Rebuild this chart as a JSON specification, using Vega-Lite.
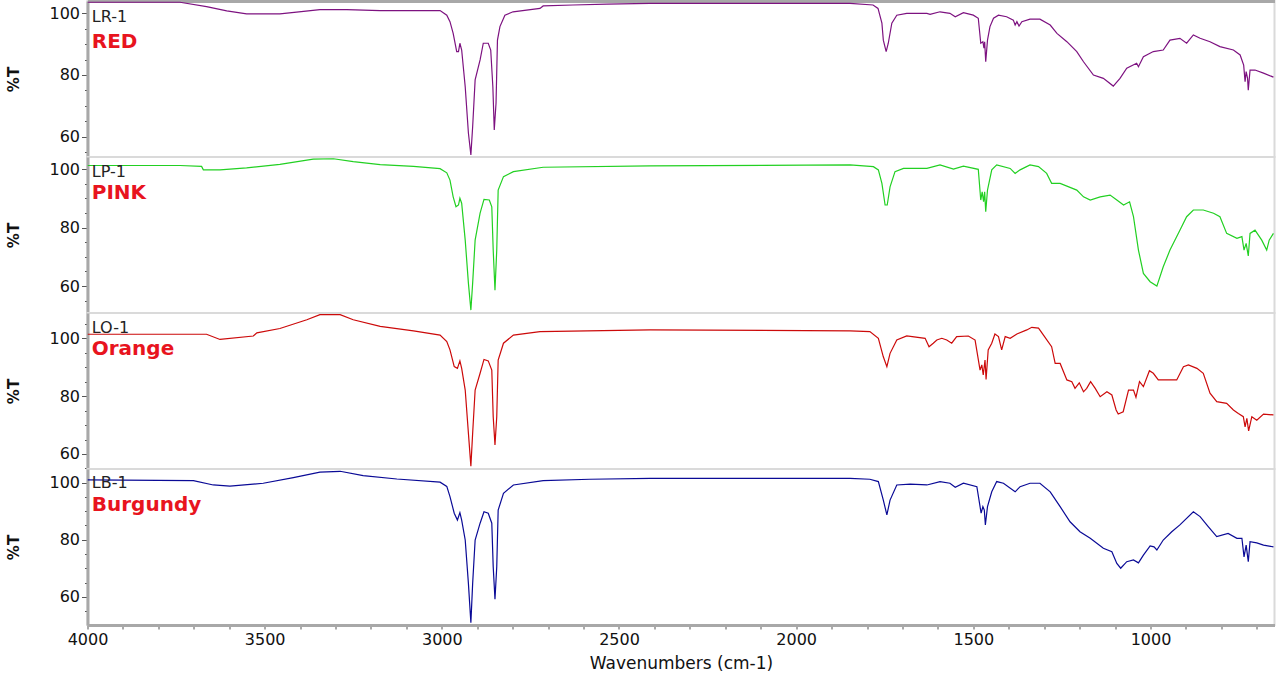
{
  "$schema": "https://vega.github.io/schema/vega-lite/v6.json",
  "background": "white",
  "padding": {"left": 4.5, "top": 0, "right": 0, "bottom": 0},
  "spacing": 0,
  "bounds": "flush",
  "config": {
    "view": {"stroke": "#DADADA", "strokeWidth": 2},
    "concat": {"spacing": 0},
    "axis": {
      "labelFont": "DejaVu Sans", "labelFontSize": 16, "labelColor": "#111111",
      "titleFont": "DejaVu Sans", "titleColor": "#111111",
      "domainColor": "#A8A8A8", "domainWidth": 3, "tickColor": "#555555", "grid": false
    },
    "text": {"font": "DejaVu Sans"}
  },
  "datasets": {
    "red": [
      {"w":4000,"T":103.6},{"w":3739,"T":103.6},{"w":3664,"T":102.2},{"w":3607,"T":100.8},{"w":3551,"T":99.8},{"w":3457,"T":99.8},{"w":3410,"T":100.4},{"w":3344,"T":101.2},{"w":3268,"T":101.2},{"w":3174,"T":100.9},{"w":3005,"T":100.9},{"w":2986,"T":99.4},{"w":2977,"T":97.3},{"w":2968,"T":93.5},{"w":2958,"T":87.6},{"w":2953,"T":87.6},{"w":2949,"T":90.3},{"w":2944,"T":88.1},{"w":2934,"T":76.2},{"w":2925,"T":61.2},{"w":2918,"T":54.1},{"w":2913,"T":63.2},{"w":2906,"T":78.4},{"w":2892,"T":84.9},{"w":2883,"T":90.3},{"w":2869,"T":90.3},{"w":2862,"T":88.1},{"w":2856,"T":76.2},{"w":2852,"T":62.2},{"w":2847,"T":70.9},{"w":2843,"T":91.3},{"w":2836,"T":95.7},{"w":2822,"T":99.4},{"w":2799,"T":100.5},{"w":2723,"T":101.6},{"w":2714,"T":102.4},{"w":2630,"T":102.7},{"w":2534,"T":103.0},{"w":2413,"T":103.2},{"w":1848,"T":103.2},{"w":1783,"T":102.7},{"w":1769,"T":101.6},{"w":1758,"T":96.8},{"w":1754,"T":91.3},{"w":1746,"T":87.6},{"w":1740,"T":90.3},{"w":1730,"T":96.8},{"w":1716,"T":99.4},{"w":1688,"T":100},{"w":1631,"T":100},{"w":1622,"T":99.7},{"w":1594,"T":100.5},{"w":1566,"T":100},{"w":1551,"T":98.9},{"w":1528,"T":100.2},{"w":1500,"T":99.4},{"w":1486,"T":98.4},{"w":1479,"T":90.3},{"w":1473,"T":90.8},{"w":1470,"T":88.7},{"w":1468,"T":90.8},{"w":1465,"T":84.3},{"w":1460,"T":91.3},{"w":1453,"T":95.7},{"w":1443,"T":98.4},{"w":1429,"T":99.4},{"w":1406,"T":98.9},{"w":1387,"T":97.8},{"w":1382,"T":96.2},{"w":1377,"T":97.3},{"w":1371,"T":95.9},{"w":1363,"T":97.3},{"w":1340,"T":98.1},{"w":1312,"T":98.1},{"w":1283,"T":96.2},{"w":1264,"T":93.5},{"w":1236,"T":90.8},{"w":1208,"T":87.6},{"w":1189,"T":84.3},{"w":1161,"T":80.0},{"w":1133,"T":78.9},{"w":1105,"T":76.4},{"w":1086,"T":78.9},{"w":1067,"T":82.2},{"w":1039,"T":83.8},{"w":1034,"T":82.7},{"w":1020,"T":85.9},{"w":992,"T":87.6},{"w":964,"T":88.1},{"w":945,"T":91.3},{"w":917,"T":91.9},{"w":898,"T":90.3},{"w":879,"T":93.0},{"w":860,"T":91.9},{"w":832,"T":90.8},{"w":804,"T":89.2},{"w":766,"T":88.1},{"w":747,"T":86.5},{"w":737,"T":83.2},{"w":733,"T":77.8},{"w":730,"T":81.1},{"w":726,"T":78.9},{"w":724,"T":75.1},{"w":719,"T":81.6},{"w":705,"T":81.6},{"w":681,"T":80.6},{"w":653,"T":79.3}
    ],
    "pink": [
      {"w":4000,"T":101.2},{"w":3739,"T":101.2},{"w":3678,"T":100.9},{"w":3673,"T":99.7},{"w":3626,"T":99.7},{"w":3551,"T":100.4},{"w":3457,"T":101.6},{"w":3363,"T":103.4},{"w":3306,"T":103.5},{"w":3250,"T":102.5},{"w":3174,"T":101.5},{"w":3080,"T":100.9},{"w":3005,"T":100.1},{"w":2986,"T":98.7},{"w":2977,"T":96.2},{"w":2968,"T":90.5},{"w":2960,"T":87.1},{"w":2953,"T":87.7},{"w":2949,"T":90.0},{"w":2944,"T":88.3},{"w":2934,"T":75.7},{"w":2925,"T":61.0},{"w":2918,"T":51.8},{"w":2913,"T":61.0},{"w":2906,"T":75.7},{"w":2892,"T":84.9},{"w":2881,"T":89.6},{"w":2866,"T":89.4},{"w":2859,"T":87.1},{"w":2855,"T":72.3},{"w":2850,"T":58.6},{"w":2845,"T":72.3},{"w":2841,"T":92.8},{"w":2826,"T":97.4},{"w":2798,"T":99.1},{"w":2714,"T":100.6},{"w":2412,"T":101.1},{"w":1848,"T":101.4},{"w":1782,"T":100.8},{"w":1768,"T":99.7},{"w":1758,"T":95.1},{"w":1749,"T":87.7},{"w":1743,"T":87.7},{"w":1735,"T":93.9},{"w":1721,"T":99.1},{"w":1697,"T":100.2},{"w":1631,"T":100.2},{"w":1594,"T":101.4},{"w":1556,"T":100},{"w":1528,"T":101},{"w":1486,"T":99.9},{"w":1479,"T":89.4},{"w":1475,"T":92.2},{"w":1471,"T":88.8},{"w":1468,"T":92.2},{"w":1465,"T":85.4},{"w":1460,"T":92.8},{"w":1448,"T":99.7},{"w":1434,"T":101.4},{"w":1396,"T":100.2},{"w":1382,"T":98.5},{"w":1368,"T":99.7},{"w":1340,"T":101.4},{"w":1316,"T":100.8},{"w":1293,"T":98.5},{"w":1279,"T":95.1},{"w":1255,"T":95.1},{"w":1208,"T":92.8},{"w":1189,"T":90.5},{"w":1170,"T":89.4},{"w":1142,"T":90.5},{"w":1114,"T":91.1},{"w":1095,"T":89.4},{"w":1076,"T":87.7},{"w":1059,"T":88.8},{"w":1048,"T":83.7},{"w":1034,"T":72.3},{"w":1020,"T":64.3},{"w":1001,"T":61.5},{"w":982,"T":60.0},{"w":964,"T":66.6},{"w":945,"T":72.3},{"w":917,"T":79.1},{"w":898,"T":83.7},{"w":879,"T":86.0},{"w":851,"T":86.0},{"w":822,"T":84.9},{"w":804,"T":83.7},{"w":785,"T":78.0},{"w":756,"T":76.3},{"w":742,"T":76.9},{"w":736,"T":72.3},{"w":730,"T":74.6},{"w":724,"T":70.3},{"w":719,"T":78.0},{"w":705,"T":79.1},{"w":686,"T":75.7},{"w":672,"T":72.3},{"w":665,"T":75.7},{"w":653,"T":78.0}
    ],
    "orange": [
      {"w":4000,"T":101.4},{"w":3664,"T":101.4},{"w":3626,"T":99.6},{"w":3532,"T":100.8},{"w":3522,"T":101.9},{"w":3457,"T":103.4},{"w":3381,"T":106.4},{"w":3344,"T":108.2},{"w":3287,"T":108.2},{"w":3250,"T":106.4},{"w":3174,"T":104.1},{"w":3080,"T":102.6},{"w":3005,"T":101.1},{"w":2986,"T":98.9},{"w":2977,"T":96.0},{"w":2965,"T":90.2},{"w":2956,"T":89.6},{"w":2949,"T":92.2},{"w":2944,"T":89.6},{"w":2934,"T":82.1},{"w":2925,"T":67.2},{"w":2918,"T":55.8},{"w":2913,"T":67.2},{"w":2906,"T":82.1},{"w":2892,"T":87.9},{"w":2881,"T":92.7},{"w":2869,"T":92.2},{"w":2859,"T":89.0},{"w":2855,"T":72.9},{"w":2850,"T":63.1},{"w":2845,"T":72.9},{"w":2841,"T":92.5},{"w":2826,"T":98.3},{"w":2798,"T":101.1},{"w":2723,"T":102.3},{"w":2412,"T":102.9},{"w":1848,"T":102.6},{"w":1792,"T":102.3},{"w":1768,"T":100},{"w":1754,"T":93.6},{"w":1744,"T":90.2},{"w":1735,"T":94.8},{"w":1716,"T":99.4},{"w":1688,"T":100.8},{"w":1636,"T":100},{"w":1625,"T":97.1},{"w":1613,"T":98.3},{"w":1603,"T":99.4},{"w":1589,"T":100},{"w":1575,"T":99.4},{"w":1561,"T":98.3},{"w":1547,"T":100.6},{"w":1514,"T":100.8},{"w":1495,"T":99.4},{"w":1481,"T":89.0},{"w":1476,"T":90.8},{"w":1472,"T":87.3},{"w":1467,"T":92.5},{"w":1464,"T":85.8},{"w":1458,"T":96.0},{"w":1448,"T":98.3},{"w":1439,"T":101.5},{"w":1429,"T":100.6},{"w":1420,"T":96.0},{"w":1410,"T":100.6},{"w":1396,"T":100},{"w":1377,"T":101.5},{"w":1349,"T":102.9},{"w":1335,"T":103.8},{"w":1316,"T":103.5},{"w":1302,"T":101.1},{"w":1279,"T":97.1},{"w":1269,"T":91.3},{"w":1255,"T":91.3},{"w":1236,"T":85.6},{"w":1222,"T":85.0},{"w":1213,"T":82.7},{"w":1201,"T":84.6},{"w":1189,"T":81.5},{"w":1180,"T":82.7},{"w":1169,"T":85.0},{"w":1156,"T":82.7},{"w":1142,"T":79.8},{"w":1123,"T":81.5},{"w":1109,"T":80.4},{"w":1097,"T":75.2},{"w":1091,"T":73.8},{"w":1077,"T":74.6},{"w":1062,"T":82.1},{"w":1048,"T":82.1},{"w":1041,"T":79.6},{"w":1031,"T":85.0},{"w":1020,"T":83.3},{"w":1003,"T":88.8},{"w":992,"T":87.9},{"w":978,"T":85.6},{"w":959,"T":85.6},{"w":926,"T":85.6},{"w":907,"T":90.2},{"w":893,"T":90.8},{"w":869,"T":89.6},{"w":851,"T":87.9},{"w":832,"T":81.0},{"w":813,"T":78.1},{"w":785,"T":77.5},{"w":766,"T":75.2},{"w":752,"T":74.0},{"w":738,"T":72.9},{"w":733,"T":69.4},{"w":728,"T":72.3},{"w":723,"T":68.0},{"w":714,"T":72.9},{"w":700,"T":71.7},{"w":681,"T":73.8},{"w":653,"T":73.5}
    ],
    "burgundy": [
      {"w":4000,"T":101.0},{"w":3701,"T":100.7},{"w":3645,"T":99.2},{"w":3598,"T":98.8},{"w":3504,"T":99.8},{"w":3419,"T":101.8},{"w":3344,"T":103.7},{"w":3287,"T":104.0},{"w":3222,"T":102.5},{"w":3127,"T":101.3},{"w":3005,"T":100.2},{"w":2986,"T":98.7},{"w":2977,"T":95.1},{"w":2965,"T":89.3},{"w":2956,"T":86.9},{"w":2949,"T":89.5},{"w":2944,"T":86.9},{"w":2934,"T":79.9},{"w":2925,"T":64.7},{"w":2918,"T":50.9},{"w":2913,"T":64.7},{"w":2906,"T":79.9},{"w":2892,"T":85.8},{"w":2881,"T":89.8},{"w":2869,"T":89.3},{"w":2859,"T":85.8},{"w":2855,"T":70.5},{"w":2850,"T":59.1},{"w":2845,"T":70.5},{"w":2841,"T":90.4},{"w":2826,"T":96.3},{"w":2798,"T":99.2},{"w":2714,"T":100.7},{"w":2582,"T":101.2},{"w":2412,"T":101.5},{"w":1848,"T":101.5},{"w":1792,"T":101.2},{"w":1768,"T":100.4},{"w":1754,"T":93.9},{"w":1744,"T":88.7},{"w":1735,"T":93.9},{"w":1716,"T":99.2},{"w":1678,"T":99.5},{"w":1631,"T":99.2},{"w":1594,"T":100.4},{"w":1566,"T":99.8},{"w":1551,"T":98.4},{"w":1528,"T":99.8},{"w":1490,"T":98.6},{"w":1478,"T":89.3},{"w":1473,"T":91.6},{"w":1469,"T":90.4},{"w":1466,"T":85.2},{"w":1460,"T":91.6},{"w":1448,"T":96.8},{"w":1434,"T":100.4},{"w":1415,"T":99.8},{"w":1382,"T":96.8},{"w":1368,"T":98.6},{"w":1340,"T":99.8},{"w":1312,"T":99.8},{"w":1283,"T":96.8},{"w":1255,"T":91.6},{"w":1227,"T":86.3},{"w":1199,"T":82.8},{"w":1170,"T":80.5},{"w":1133,"T":77.0},{"w":1109,"T":75.8},{"w":1095,"T":71.7},{"w":1084,"T":70.0},{"w":1067,"T":72.3},{"w":1048,"T":72.9},{"w":1034,"T":71.9},{"w":1020,"T":74.6},{"w":1001,"T":77.8},{"w":990,"T":77.5},{"w":982,"T":76.4},{"w":964,"T":79.9},{"w":940,"T":82.8},{"w":917,"T":85.2},{"w":879,"T":89.8},{"w":860,"T":88.1},{"w":837,"T":84.6},{"w":813,"T":81.1},{"w":781,"T":82.2},{"w":756,"T":80.5},{"w":742,"T":80.5},{"w":736,"T":74.0},{"w":730,"T":78.1},{"w":724,"T":72.3},{"w":719,"T":79.3},{"w":700,"T":78.9},{"w":681,"T":78.1},{"w":653,"T":77.5}
    ]
  },
  "vconcat": [
    {
      "width": 1187, "height": 156,
      "encoding": {
        "x": {"field": "w", "type": "quantitative", "scale": {"domain": [4000, 650], "nice": false, "zero": false},
              "axis": {"orient": "top", "labels": false, "ticks": false, "title": null, "domainColor": "#A8A8A8", "domainWidth": 3}},
        "y": {"field": "T", "type": "quantitative", "scale": {"domain": [53.4, 104], "nice": false, "zero": false},
              "axis": {"title": "%T", "titleFontSize": 15, "titleFontWeight": "bold", "titlePadding": 27.5,
                       "values": [55,60,65,70,75,80,85,90,95,100],
                       "labelExpr": "datum.value % 20 === 0 ? datum.label : ''",
                       "tickSize": {"condition": {"test": "datum.value % 20 === 0", "value": 6}, "value": 3},
                       "labelPadding": 2}}
      },
      "layer": [
        {"data": {"name": "red"}, "mark": {"type": "line", "color": "#7D1280", "strokeWidth": 1.2, "clip": true}},
        {"data": {"values": [{"w": 3988, "T": 97.3, "t": "LR-1"}]}, "mark": {"type": "text", "align": "left", "baseline": "alphabetic", "fontSize": 16, "color": "#222222"}, "encoding": {"text": {"field": "t"}}},
        {"data": {"values": [{"w": 3988, "T": 88.75, "t": "RED"}]}, "mark": {"type": "text", "align": "left", "baseline": "alphabetic", "fontSize": 20, "fontWeight": "bold", "color": "#E8141E"}, "encoding": {"text": {"field": "t"}}}
      ]
    },
    {
      "width": 1187, "height": 156,
      "encoding": {
        "x": {"field": "w", "type": "quantitative", "scale": {"domain": [4000, 650], "nice": false, "zero": false}, "axis": null},
        "y": {"field": "T", "type": "quantitative", "scale": {"domain": [50.8, 104.1], "nice": false, "zero": false},
              "axis": {"title": "%T", "titleFontSize": 15, "titleFontWeight": "bold", "titlePadding": 27.5,
                       "values": [55,60,65,70,75,80,85,90,95,100],
                       "labelExpr": "datum.value % 20 === 0 ? datum.label : ''",
                       "tickSize": {"condition": {"test": "datum.value % 20 === 0", "value": 6}, "value": 3},
                       "labelPadding": 2}}
      },
      "layer": [
        {"data": {"name": "pink"}, "mark": {"type": "line", "color": "#22D022", "strokeWidth": 1.2, "clip": true}},
        {"data": {"values": [{"w": 3988, "T": 97.4, "t": "LP-1"}]}, "mark": {"type": "text", "align": "left", "baseline": "alphabetic", "fontSize": 16, "color": "#222222"}, "encoding": {"text": {"field": "t"}}},
        {"data": {"values": [{"w": 3988, "T": 89.6, "t": "PINK"}]}, "mark": {"type": "text", "align": "left", "baseline": "alphabetic", "fontSize": 20, "fontWeight": "bold", "color": "#E8141E"}, "encoding": {"text": {"field": "t"}}}
      ]
    },
    {
      "width": 1187, "height": 156,
      "encoding": {
        "x": {"field": "w", "type": "quantitative", "scale": {"domain": [4000, 650], "nice": false, "zero": false}, "axis": null},
        "y": {"field": "T", "type": "quantitative", "scale": {"domain": [54.8, 108.75], "nice": false, "zero": false},
              "axis": {"title": "%T", "titleFontSize": 15, "titleFontWeight": "bold", "titlePadding": 27.5,
                       "values": [55,60,65,70,75,80,85,90,95,100,105],
                       "labelExpr": "datum.value % 20 === 0 ? datum.label : ''",
                       "tickSize": {"condition": {"test": "datum.value % 20 === 0", "value": 6}, "value": 3},
                       "labelPadding": 2}}
      },
      "layer": [
        {"data": {"name": "orange"}, "mark": {"type": "line", "color": "#CC0A0A", "strokeWidth": 1.2, "clip": true}},
        {"data": {"values": [{"w": 3988, "T": 101.7, "t": "LO-1"}]}, "mark": {"type": "text", "align": "left", "baseline": "alphabetic", "fontSize": 16, "color": "#222222"}, "encoding": {"text": {"field": "t"}}},
        {"data": {"values": [{"w": 3988, "T": 94.2, "t": "Orange"}]}, "mark": {"type": "text", "align": "left", "baseline": "alphabetic", "fontSize": 20, "fontWeight": "bold", "color": "#E8141E"}, "encoding": {"text": {"field": "t"}}}
      ]
    },
    {
      "width": 1187, "height": 156,
      "encoding": {
        "x": {"field": "w", "type": "quantitative", "scale": {"domain": [4000, 650], "nice": false, "zero": false},
              "axis": {"title": "Wavenumbers (cm-1)", "titleFontSize": 17, "titleFontWeight": "normal", "titlePadding": 8,
                       "values": [700,800,900,1000,1100,1200,1300,1400,1500,1600,1700,1800,1900,2000,2100,2200,2300,2400,2500,2600,2700,2800,2900,3000,3100,3200,3300,3400,3500,3600,3700,3800,3900,4000],
                       "labelExpr": "datum.value % 500 === 0 ? datum.label : ''",
                       "format": "d", "tickSize": 4, "labelPadding": 2, "labelFontSize": 16, "labelFlush": false}},
        "y": {"field": "T", "type": "quantitative", "scale": {"domain": [50.1, 104.8], "nice": false, "zero": false},
              "axis": {"title": "%T", "titleFontSize": 15, "titleFontWeight": "bold", "titlePadding": 27.5,
                       "values": [55,60,65,70,75,80,85,90,95,100],
                       "labelExpr": "datum.value % 20 === 0 ? datum.label : ''",
                       "tickSize": {"condition": {"test": "datum.value % 20 === 0", "value": 6}, "value": 3},
                       "labelPadding": 2}}
      },
      "layer": [
        {"data": {"name": "burgundy"}, "mark": {"type": "line", "color": "#0A0A96", "strokeWidth": 1.2, "clip": true}},
        {"data": {"values": [{"w": 3988, "T": 98.0, "t": "LB-1"}]}, "mark": {"type": "text", "align": "left", "baseline": "alphabetic", "fontSize": 16, "color": "#222222"}, "encoding": {"text": {"field": "t"}}},
        {"data": {"values": [{"w": 3988, "T": 90.2, "t": "Burgundy"}]}, "mark": {"type": "text", "align": "left", "baseline": "alphabetic", "fontSize": 20, "fontWeight": "bold", "color": "#E8141E"}, "encoding": {"text": {"field": "t"}}}
      ]
    }
  ]
}
